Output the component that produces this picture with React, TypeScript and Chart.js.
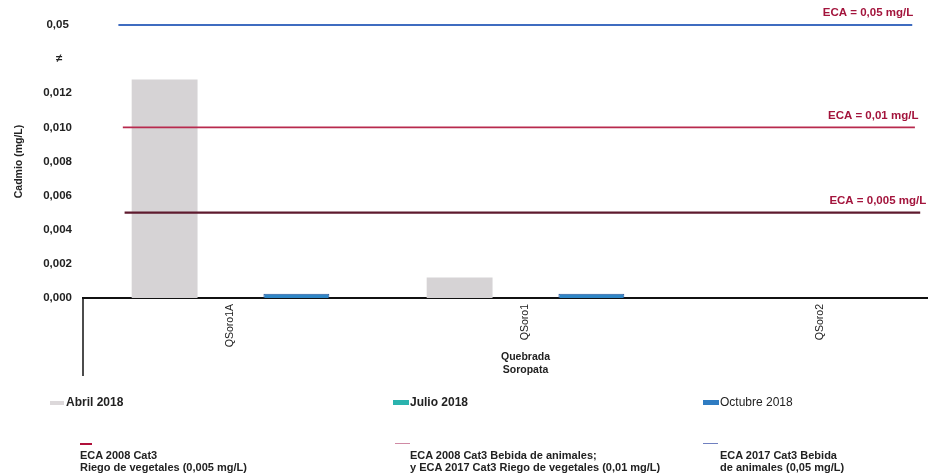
import React, { useEffect, useRef } from "react";
import { Chart, registerables } from "chart.js";

Chart.register(...registerables);

// Sampling points and measured cadmium (mg/L)
const stations = ["QSoro1A", "QSoro1", "QSoro2"];
const abril2018 = [0.0128, 0.0012, null];
const julio2018 = [null, null, null];
const octubre2018 = [0.00025, 0.00025, null];

// Reference standards (ECA) in mg/L
const ecaValues = [0.05, 0.01, 0.005];
const ecaTags = ["ECA = 0,05 mg/L", "ECA = 0,01 mg/L", "ECA = 0,005 mg/L"];
const ecaColors = ["#3f6cc0", "#b82a4e", "#5e1a2e"];
// extent of each standard line, as a fraction of the category axis
const ecaStart = [0.04, 0.045, 0.047];
const ecaEnd = [0.937, 0.94, 0.946];

// Axis ticks (broken axis: lower segment up to 0,012, upper shows 0,05)
const lowerTicks = [0, 0.002, 0.004, 0.006, 0.008, 0.01, 0.012];
const breakAt = 0.014;
const upperTick = 0.05;
const axisTop = 0.016;

const FONT = "'Liberation Sans', Arial, sans-serif";

// Map a real value onto the broken axis
function toAxis(v: number | null): number | null {
  if (v === null) return null;
  if (v <= breakAt) return v;
  return breakAt + ((v - breakAt) * (axisTop - breakAt)) / (upperTick - breakAt);
}

function fmtTick(v: number): string {
  const near = (a: number, b: number) => Math.abs(a - b) < 1e-9;
  if (near(v, axisTop)) return "0,05 ";
  if (near(v, breakAt)) return "≠   ";
  if (lowerTicks.some((t) => near(t, v))) return v.toFixed(3).replace(".", ",");
  return "";
}

const decorPlugin = {
  id: "decor",
  afterDatasetsDraw(chart: any) {
    const { ctx, chartArea } = chart;
    const xs = chart.scales.x;
    const ys = chart.scales.y;
    ctx.save();
    // standard (ECA) lines with their labels
    ecaValues.forEach((v, i) => {
      const y = ys.getPixelForValue(toAxis(v));
      const x0 = xs.getPixelForDecimal(ecaStart[i]);
      const x1 = xs.getPixelForDecimal(ecaEnd[i]);
      ctx.strokeStyle = ecaColors[i];
      ctx.lineWidth = i === 2 ? 2.2 : 1.8;
      ctx.beginPath();
      ctx.moveTo(x0, y);
      ctx.lineTo(x1, y);
      ctx.stroke();
      ctx.fillStyle = "#a3143c";
      ctx.font = `bold 11.5px ${FONT}`;
      ctx.textAlign = "right";
      ctx.textBaseline = "middle";
      ctx.fillText(ecaTags[i], x1 + 1 + i * 2.5, y - 12);
    });
    // group separator below the category axis
    ctx.strokeStyle = "#111";
    ctx.lineWidth = 1.5;
    ctx.beginPath();
    ctx.moveTo(chartArea.left, chartArea.bottom);
    ctx.lineTo(chartArea.left, chartArea.bottom + 78);
    ctx.stroke();
    // group label
    ctx.fillStyle = "#222";
    ctx.font = `bold 10.5px ${FONT}`;
    ctx.textAlign = "center";
    ctx.textBaseline = "middle";
    const cx = (chartArea.left + chartArea.right) / 2;
    ctx.fillText("Quebrada", cx, chartArea.bottom + 59);
    ctx.fillText("Soropata", cx, chartArea.bottom + 72);
    ctx.restore();
  },
};

export default function App() {
  const ref = useRef<HTMLCanvasElement>(null);

  useEffect(() => {
    if (!ref.current) return;
    const chart = new Chart(ref.current, {
      type: "bar",
      data: {
        labels: stations,
        datasets: [
          {
            label: "Abril 2018",
            data: abril2018.map(toAxis),
            backgroundColor: "#d6d3d5",
          },
          {
            label: "Julio 2018",
            data: julio2018.map(toAxis),
            backgroundColor: "#2bb3ae",
          },
          {
            label: "Octubre 2018",
            data: octubre2018.map(toAxis),
            backgroundColor: "#2f86c6",
            borderColor: "#27559a",
            borderWidth: 1,
          },
        ] as any,
      },
      options: {
        animation: false,
        responsive: false,
        categoryPercentage: 0.67,
        barPercentage: 1,
        layout: { padding: { top: 25, right: 12, bottom: 97, left: 0 } },
        plugins: { legend: { display: false }, tooltip: { enabled: false } },
        scales: {
          x: {
            type: "category",
            grid: { display: false, drawTicks: false },
            border: { display: true, color: "#111", width: 2 },
            ticks: {
              minRotation: 90,
              maxRotation: 90,
              padding: 6,
              color: "#222",
              font: { family: FONT, size: 10.5 },
            },
            afterFit: (s: any) => {
              s.height = 80;
            },
          },
          y: {
            type: "linear",
            min: 0,
            max: axisTop,
            grid: { display: false, drawTicks: false },
            border: { display: false },
            ticks: {
              stepSize: 0.002,
              padding: 11,
              color: "#222",
              font: { family: FONT, size: 11.5, weight: "bold" },
              callback: (v: any) => fmtTick(Number(v)),
            },
            title: {
              display: true,
              text: "Cadmio (mg/L)",
              color: "#222",
              padding: { top: 13, bottom: 4 },
              font: { family: FONT, size: 10.5, weight: "bold" },
            },
            afterFit: (s: any) => {
              s.width = 83;
            },
          },
        },
      } as any,
      plugins: [decorPlugin],
    });
    return () => chart.destroy();
  }, []);

  const txt: React.CSSProperties = {
    position: "absolute",
    fontFamily: FONT,
    color: "#222",
    whiteSpace: "nowrap",
  };
  const sw = (left: number, top: number, w: number, h: number, bg: string): React.CSSProperties => ({
    position: "absolute",
    left,
    top,
    width: w,
    height: h,
    background: bg,
  });

  return (
    <div
      style={{
        position: "fixed",
        left: 0,
        top: 0,
        width: 928,
        height: 475,
        overflow: "hidden",
        background: "#fff",
      }}
    >
      <canvas ref={ref} width={980} height={475} style={{ display: "block" }} />
      {/* series legend */}
      <div style={sw(50, 401, 14, 4, "#dcd8da")} />
      <div style={{ ...txt, left: 66, top: 395, fontSize: 12, fontWeight: "bold" }}>Abril 2018</div>
      <div style={sw(393, 400, 16, 5, "#2bb3ae")} />
      <div style={{ ...txt, left: 410, top: 395, fontSize: 12, fontWeight: "bold" }}>Julio 2018</div>
      <div style={sw(703, 400, 16, 5, "#2f7cc2")} />
      <div style={{ ...txt, left: 720, top: 395, fontSize: 12 }}>Octubre 2018</div>
      {/* standards legend */}
      <div style={sw(80, 443, 12, 1.5, "#b0103a")} />
      <div style={{ ...txt, left: 80, top: 449, fontSize: 11, fontWeight: "bold", lineHeight: "12px" }}>
        ECA 2008 Cat3
        <br />
        Riego de vegetales (0,005 mg/L)
      </div>
      <div style={sw(395, 443, 15, 1.2, "#d08aa4")} />
      <div style={{ ...txt, left: 410, top: 449, fontSize: 11, fontWeight: "bold", lineHeight: "12px" }}>
        ECA 2008 Cat3 Bebida de animales;
        <br />y ECA 2017 Cat3 Riego de vegetales (0,01 mg/L)
      </div>
      <div style={sw(703, 443, 15, 1.2, "#7080c0")} />
      <div style={{ ...txt, left: 720, top: 449, fontSize: 11, fontWeight: "bold", lineHeight: "12px" }}>
        ECA 2017 Cat3 Bebida
        <br />
        de animales (0,05 mg/L)
      </div>
    </div>
  );
}
